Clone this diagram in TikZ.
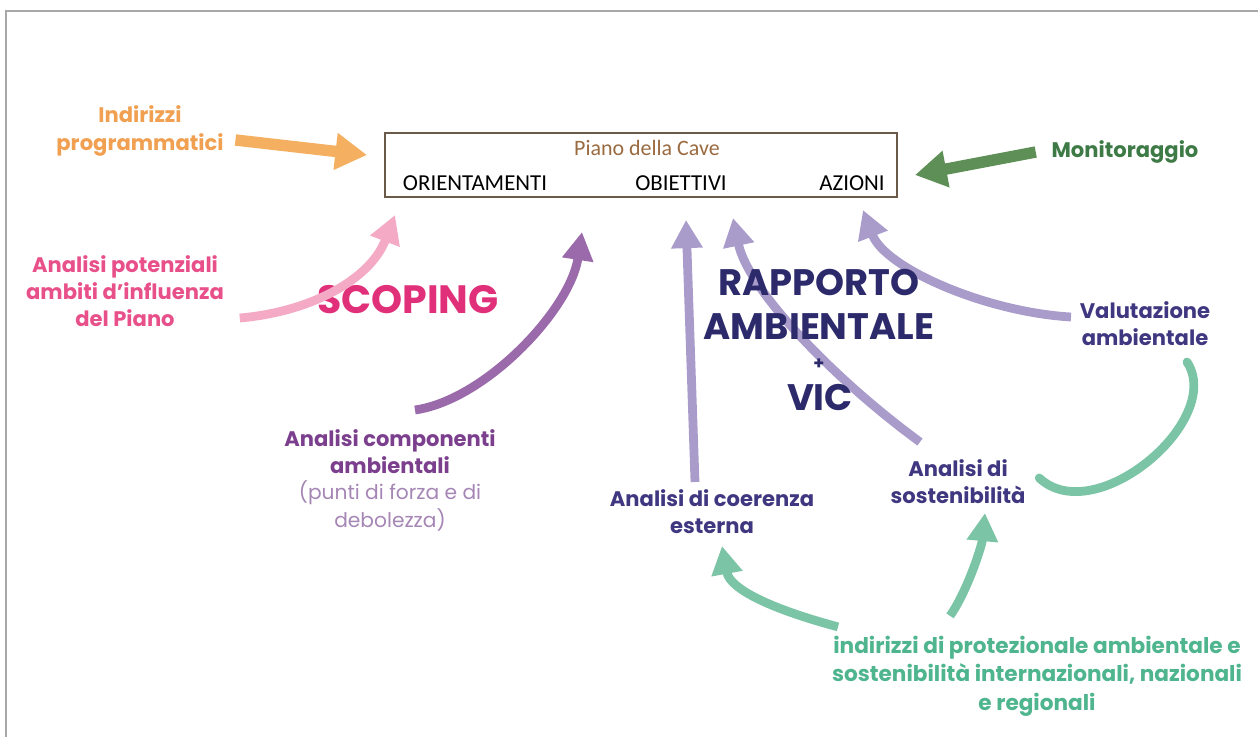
\documentclass[tikz,border=0pt]{standalone}
\usepackage{fontspec}
\setmainfont{Carlito}
\newfontfamily\gothic{Poppins}
\usetikzlibrary{arrows.meta,positioning,calc}
\definecolor{framegray}{HTML}{A8A8A8}
\definecolor{boxbrown}{HTML}{6B5A4A}
\definecolor{titlebrown}{HTML}{9A6A40}
\definecolor{orangeT}{HTML}{F0A050}
\definecolor{orangeA}{HTML}{F4B060}
\definecolor{pinkT}{HTML}{E8508A}
\definecolor{pinkS}{HTML}{E0307A}
\definecolor{pinkA}{HTML}{F4AAC4}
\definecolor{purpleA}{HTML}{9A6AAA}
\definecolor{purpleT}{HTML}{7B3F8E}
\definecolor{purpleL}{HTML}{A586B5}
\definecolor{lilacA}{HTML}{A99CCB}
\definecolor{navyR}{HTML}{2D2A6B}
\definecolor{navyT}{HTML}{3F3780}
\definecolor{greenT}{HTML}{3E7A46}
\definecolor{greenA}{HTML}{5E8F56}
\definecolor{tealA}{HTML}{7CC4A6}
\definecolor{tealT}{HTML}{4FB58E}
\tikzset{
  lab/.style={font=\gothic\bfseries\fontsize{12}{15.5}\selectfont, align=center, inner sep=2pt},
  boxtext/.style={font=\fontsize{13}{15}\selectfont, inner sep=1pt},
  fat/.style={line width=5pt, -{Triangle[length=16pt,width=17pt]}},
  fatter/.style={line width=6.5pt, -{Triangle[length=18pt,width=20pt]}}
}
\begin{document}
\begin{tikzpicture}[x=0.02cm,y=-0.02cm]
\useasboundingbox (0,0) rectangle (1258,737);
% frame
\draw[framegray, line width=1.7pt] (6,737) -- (6,11) -- (1258,11);
% the plan box
\node[draw=boxbrown, line width=1pt, minimum width=10.24cm, minimum height=1.28cm] (piano) at (641,165) {};
\node[boxtext, text=titlebrown, font=\fontsize{12.5}{14}\selectfont] (titolo) at (647,148) {Piano della Cave};
\node[boxtext] (orient) at (475,183) {ORIENTAMENTI};
\node[boxtext] (obiet) at (681,183) {OBIETTIVI};
\node[boxtext] (azioni) at (852,183) {AZIONI};
% labels
\node[lab, text=orangeT] (indir) at (140,131) {Indirizzi\\programmatici};
\node[lab, text=greenT] (monit) at (1125,152) {Monitoraggio};
\node[lab, text=pinkT] (potenz) at (125,291) {Analisi potenziali\\ambiti d’influenza\\del Piano};
\node[font=\gothic\bfseries\fontsize{22.5}{24}\selectfont, text=pinkS] (scoping) at (408,300) {SCOPING};
\node[lab, text=purpleT] (compon) at (390,452) {Analisi componenti\\ambientali};
\node[lab, text=purpleL, font=\gothic\fontsize{11.5}{15.5}\selectfont] (punti) at (390,506) {(punti di forza e di\\debolezza)};
\node[lab, text=navyT] (valut) at (1145,324) {Valutazione\\ambientale};
\node[lab, text=navyT] (coer) at (712,512) {Analisi di coerenza\\esterna};
\node[lab, text=navyT] (sost) at (958,482) {Analisi di\\sostenibilità};
\node[lab, text=tealT, font=\gothic\bfseries\fontsize{12.3}{16.3}\selectfont] (norme) at (1037,676) {indirizzi di protezionale ambientale e\\sostenibilità internazionali, nazionali\\e regionali};
% arrow tips under the box
\coordinate (tipOr) at (367,155);
\coordinate (tipGr) at (915,175);
\coordinate (tipPk) at (395,215);
\coordinate (tipPu) at (582,232);
\coordinate (tipObA) at (686,220);
\coordinate (tipObB) at (733,218);
\coordinate (tipAz) at (863,210);
% arrows into the plan
\draw[fatter, orangeA] ([shift={(8,9)}]indir.east) -- (tipOr);
\draw[fatter, greenA] ([shift={(-12,0)}]monit.west) -- (tipGr);
\draw[fat, pinkA] ([shift={(12,27)}]potenz.east) .. controls (310,312) and (370,280) .. (tipPk);
\draw[fat, purpleA] ([shift={(25,-16)}]compon.north) .. controls (485,400) and (570,310) .. (tipPu);
\draw[fat, lilacA] ([shift={(-17,-4)}]coer.north) -- (tipObA);
\draw[fat, lilacA] ([shift={(-38,-14)}]sost.north) .. controls (835,380) and (748,290) .. (tipObB);
\draw[fat, lilacA] ([shift={(-5,-7)}]valut.west) .. controls (985,312) and (885,268) .. (tipAz);
% feedback
\draw[line width=5pt, tealA, line cap=round] ([shift={(42,12)}]valut.south) .. controls (1225,420) and (1095,530) .. ([shift={(10,-4)}]sost.east);
\draw[fat, tealA] ([shift={(-199,-5)}]norme.north) .. controls (775,610) and (730,590) .. ([shift={(10,8)}]coer.south);
\draw[fat, tealA] ([shift={(-87,-16)}]norme.north) .. controls (968,590) and (982,545) .. ([shift={(27,5)}]sost.south);
% main title over the arrows
\node[font=\gothic\bfseries\fontsize{21}{25}\selectfont, text=navyR, align=center] (rapporto) at (819,304) {RAPPORTO\\AMBIENTALE};
\node[font=\gothic\bfseries\fontsize{10}{10}\selectfont, text=navyR, inner sep=0pt] (piu) at (819,364) {+};
\node[font=\gothic\bfseries\fontsize{21}{23}\selectfont, text=navyR] (vic) at (820,397) {VIC};
\end{tikzpicture}
\end{document}
